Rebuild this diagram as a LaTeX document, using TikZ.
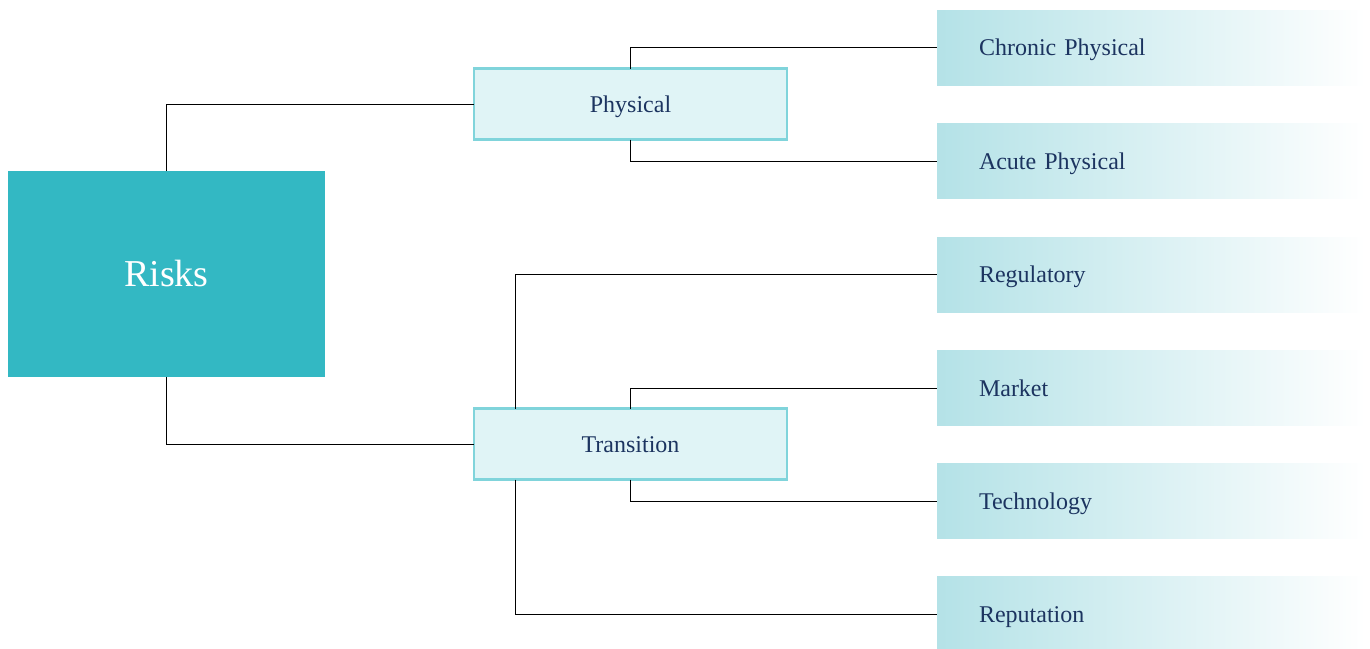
\documentclass[tikz,border=0pt]{standalone}
\usepackage{fontspec}
\setmainfont{Liberation Serif}
\usepackage{tikz}
\definecolor{riskTeal}{RGB}{51,184,195}
\definecolor{midFill}{RGB}{224,244,246}
\definecolor{midLine}{RGB}{128,212,219}
\definecolor{leafCyan}{RGB}{180,226,231}
\definecolor{navy}{RGB}{28,52,96}

\begin{document}
\begin{tikzpicture}[x=1pt, y=-1pt]%
  \tikzset{risk box/.style={fill=riskTeal, text=white, minimum width=317pt, minimum height=206pt, text height=25pt, text depth=0pt, font=\fontsize{38}{40}\selectfont},
    mid box/.style={fill=midFill, draw=midLine, line width=2.2pt, text=navy, minimum width=313pt, minimum height=71pt, text height=16pt, text depth=0pt, font=\fontsize{24}{26}\selectfont},
    leaf box/.style={left color=leafCyan, right color=white, text=navy, text width=344pt, inner xsep=42pt, minimum height=75pt, text height=16pt, text depth=0pt, align=left, font=\fontsize{24}{26}\selectfont},
    link/.style={draw, black, line width=1pt}}
  \tikzstyle{every node}=[draw=none, outer sep=0pt, inner ysep=0pt]

  \useasboundingbox (0,0) rectangle (1370,648);

  \node[risk box] at (166.5,274) (Risks) {Risks};
  \node[mid box] at (630.5,104) (Phys) {Physical};
  \node[mid box] at (630.5,444) (Trans) {Transition};

  \node[leaf box] at (1151,47.5) (Chronic) {Chronic Physical};
  \node[leaf box] at (1151,161) (Acute) {Acute Physical};
  \node[leaf box] at (1151,274.5) (Reg) {Regulatory};
  \node[leaf box] at (1151,388) (Market) {Market};
  \node[leaf box] at (1151,501) (Tech) {Technology};
  \node[leaf box] at (1151,614) (Rep) {Reputation};

  \coordinate (t1) at ([xshift=-115.5pt]Trans.north);
  \coordinate (t2) at ([xshift=-115.5pt]Trans.south);

  \path[link] (Risks.north) |- (Phys.west);
  \path[link] (Risks.south) |- (Trans.west);
  \path[link] (Phys.north) |- (Chronic.west);
  \path[link] (Phys.south) |- (Acute.west);
  \path[link] (t1) |- (Reg.west);
  \path[link] (Trans.north) |- (Market.west);
  \path[link] (Trans.south) |- (Tech.west);
  \path[link] (t2) |- (Rep.west);
\end{tikzpicture}
\end{document}
